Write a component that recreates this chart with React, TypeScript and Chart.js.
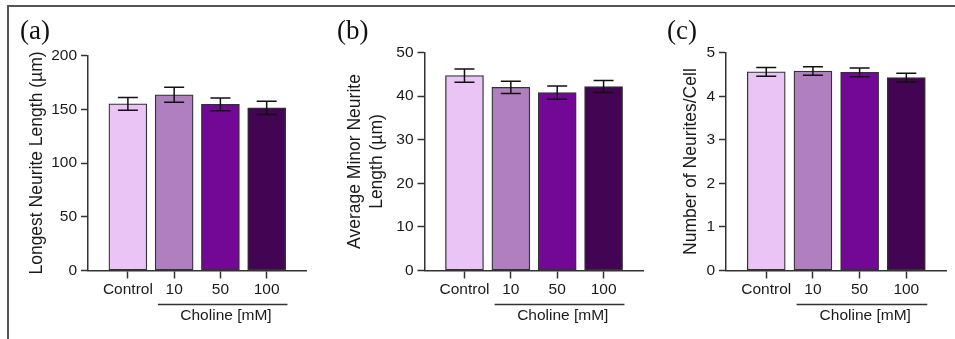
import React, { useEffect, useRef } from 'react';
import { Chart, registerables } from 'chart.js';

Chart.register(...registerables);

const W = 955;
const H = 339;

// ---- data ----
const categories = ['Control', '10', '50', '100'];
const categoryPositions = [1, 2, 3, 4];
const barColors = ['#E9C4F5', '#B07FC0', '#730896', '#420453'];

const longestMean = [155, 163.5, 154.5, 151.3];
const longestErr = [6, 7, 6, 6.2];
const longestTicks = [0, 50, 100, 150, 200];

const minorMean = [44.7, 42.0, 40.8, 42.2];
const minorErr = [1.5, 1.4, 1.5, 1.4];
const minorTicks = [0, 10, 20, 30, 40, 50];

const neuritesMean = [4.56, 4.58, 4.55, 4.43];
const neuritesErr = [0.1, 0.1, 0.1, 0.1];
const neuritesTicks = [0, 1, 2, 3, 4, 5];

const groupLabel = 'Choline [mM]';

const SANS = '"Liberation Sans", Arial, Helvetica, sans-serif';
const SERIF = '"Liberation Serif", "Times New Roman", serif';
const AXIS = '#333333';
const TEXT = '#1a1a1a';

type Panel = {
  tag: string;
  tagX: number;
  title: string[];
  titleX: number[];
  mean: number[];
  err: number[];
  ticks: number[];
  area: { left: number; right: number; top: number; bottom: number };
};

const panels: Panel[] = [
  {
    tag: '(a)',
    tagX: 20,
    title: ['Longest Neurite Length (µm)'],
    titleX: [37],
    mean: longestMean,
    err: longestErr,
    ticks: longestTicks,
    area: { left: 88, right: 306, top: 55.5, bottom: 270.5 },
  },
  {
    tag: '(b)',
    tagX: 337,
    title: ['Average Minor Neurite', 'Length (µm)'],
    titleX: [355, 377],
    mean: minorMean,
    err: minorErr,
    ticks: minorTicks,
    area: { left: 424.5, right: 643, top: 52.5, bottom: 270.5 },
  },
  {
    tag: '(c)',
    tagX: 667,
    title: ['Number of Neurites/Cell'],
    titleX: [691],
    mean: neuritesMean,
    err: neuritesErr,
    ticks: neuritesTicks,
    area: { left: 726, right: 946, top: 52.7, bottom: 270.5 },
  },
];

const Y_W = 60;
const X_H = 40;

function makeDecor(p: Panel) {
  return {
    id: 'decor',
    afterDatasetsDraw(chart: any) {
      const ctx = chart.ctx;
      const y = chart.scales.y;
      const meta = chart.getDatasetMeta(0);
      ctx.save();
      ctx.strokeStyle = '#111111';
      ctx.lineWidth = 1.5;
      p.mean.forEach((m, i) => {
        const px = meta.data[i].x;
        const yt = y.getPixelForValue(m + p.err[i]);
        const yb = y.getPixelForValue(m - p.err[i]);
        ctx.beginPath();
        ctx.moveTo(px, yt);
        ctx.lineTo(px, yb);
        ctx.moveTo(px - 10, yt);
        ctx.lineTo(px + 10, yt);
        ctx.moveTo(px - 10, yb);
        ctx.lineTo(px + 10, yb);
        ctx.stroke();
      });
      ctx.restore();
    },
    afterDraw(chart: any) {
      const ctx = chart.ctx;
      const x = chart.scales.x;
      const ca = chart.chartArea;
      ctx.save();
      // panel tag
      ctx.fillStyle = '#111111';
      ctx.font = `27px ${SERIF}`;
      ctx.textAlign = 'left';
      ctx.textBaseline = 'alphabetic';
      ctx.fillText(p.tag, p.tagX, 39);
      // y titles
      const cy = (ca.top + ca.bottom) / 2;
      ctx.font = `17.5px ${SANS}`;
      ctx.fillStyle = TEXT;
      p.title.forEach((t, i) => {
        ctx.save();
        ctx.translate(p.titleX[i], cy);
        ctx.rotate(-Math.PI / 2);
        ctx.textAlign = 'center';
        ctx.textBaseline = 'middle';
        ctx.fillText(t, 0, 0);
        ctx.restore();
      });
      // group bracket
      const x1 = x.getPixelForValue(1.65);
      const x2 = x.getPixelForValue(4.45);
      ctx.strokeStyle = AXIS;
      ctx.lineWidth = 1.5;
      ctx.beginPath();
      ctx.moveTo(x1, 304.5);
      ctx.lineTo(x2, 304.5);
      ctx.stroke();
      ctx.font = `15.5px ${SANS}`;
      ctx.textAlign = 'center';
      ctx.textBaseline = 'middle';
      ctx.fillText(groupLabel, x.getPixelForValue(3.12), 316);
      ctx.restore();
    },
  };
}

function PanelChart({ p }: { p: Panel }) {
  const ref = useRef<HTMLCanvasElement | null>(null);
  useEffect(() => {
    if (!ref.current) return;
    const a = p.area;
    const chart = new Chart(ref.current, {
      type: 'bar',
      data: {
        datasets: [
          {
            data: p.mean.map((m, i) => ({ x: categoryPositions[i], y: m })),
            backgroundColor: barColors,
            borderColor: '#333333',
            borderWidth: 1.3,
            borderSkipped: false,
            barThickness: 38,
          } as any,
        ],
      },
      options: {
        animation: false,
        responsive: false,
        devicePixelRatio: 1,
        layout: {
          padding: {
            left: a.left - Y_W,
            right: W - a.right,
            top: a.top,
            bottom: H - a.bottom - X_H,
          },
        },
        plugins: {
          legend: { display: false },
          tooltip: { enabled: false },
        },
        scales: {
          x: {
            type: 'linear',
            min: 0.138,
            max: 4.85,
            offset: false,
            afterFit: (s: any) => {
              s.height = X_H;
            },
            afterBuildTicks: (s: any) => {
              s.ticks = categoryPositions.map((v) => ({ value: v }));
            },
            grid: {
              display: true,
              offset: false,
              drawOnChartArea: false,
              drawTicks: true,
              tickLength: 8,
              tickWidth: 1.5,
              color: AXIS,
            },
            border: { display: true, color: AXIS, width: 1.5 },
            ticks: {
              padding: 2,
              color: TEXT,
              font: { size: 15.5, family: SANS },
              maxRotation: 0,
              autoSkip: false,
              callback: (v: any) => {
                const idx = categoryPositions.indexOf(Number(v));
                return idx >= 0 ? categories[idx] : '';
              },
            },
          } as any,
          y: {
            type: 'linear',
            min: p.ticks[0],
            max: p.ticks[p.ticks.length - 1],
            afterFit: (s: any) => {
              s.width = Y_W;
            },
            afterBuildTicks: (s: any) => {
              s.ticks = p.ticks.map((v) => ({ value: v }));
            },
            grid: {
              display: true,
              drawOnChartArea: false,
              drawTicks: true,
              tickLength: 7,
              tickWidth: 1.5,
              color: AXIS,
            },
            border: { display: true, color: AXIS, width: 1.5 },
            ticks: {
              padding: 4,
              color: TEXT,
              font: { size: 15.5, family: SANS },
            },
          } as any,
        },
      },
      plugins: [makeDecor(p)],
    });
    return () => chart.destroy();
  }, [p]);
  return (
    <canvas
      ref={ref}
      width={W}
      height={H}
      style={{ position: 'absolute', left: 0, top: 0, width: W, height: H }}
    />
  );
}

export default function App() {
  return (
    <div
      style={{
        position: 'fixed',
        left: 0,
        top: 0,
        width: W,
        height: H,
        background: '#ffffff',
        overflow: 'hidden',
      }}
    >
      <div
        style={{
          position: 'absolute',
          left: 7,
          top: 5,
          width: W,
          height: H,
          borderTop: '2px solid #555555',
          borderLeft: '2px solid #555555',
        }}
      />
      {panels.map((p) => (
        <PanelChart key={p.tag} p={p} />
      ))}
    </div>
  );
}
